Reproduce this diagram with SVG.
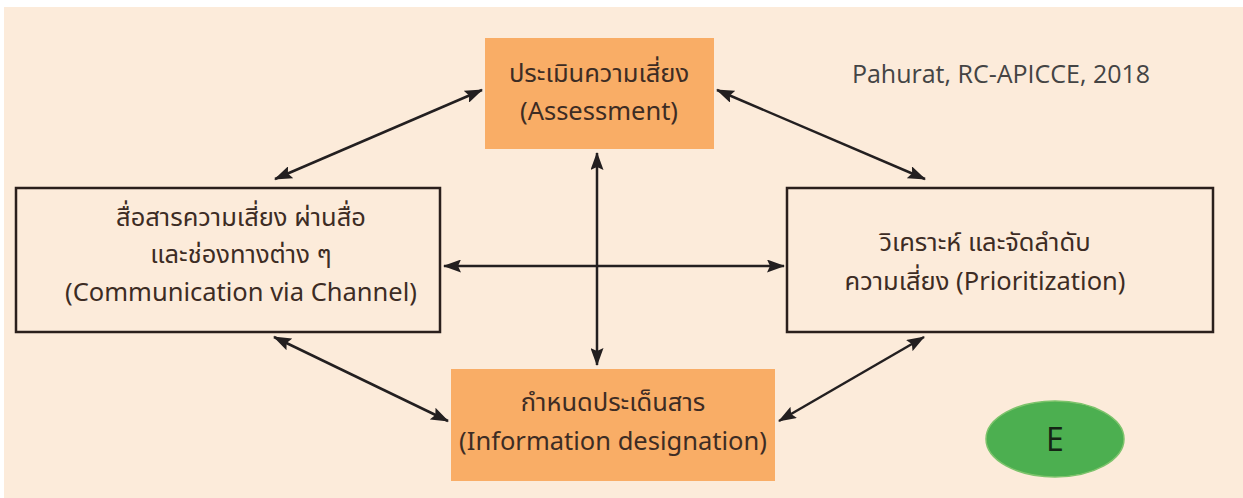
<svg xmlns="http://www.w3.org/2000/svg" width="1243" height="498" viewBox="0 0 1243 498">
<defs>
<style>
.t{font-family:"Noto Sans Thai","Noto Sans","Open Sans",sans-serif;font-size:25.5px;fill:#3d2c24;text-anchor:middle}
.box{fill:none;stroke:#2a1f1c;stroke-width:2.5}
.obox{fill:#f9ad66}
.c{stroke:#231f20;stroke-width:2.5;fill:none;marker-start:url(#ah);marker-end:url(#ah)}
</style>
<marker id="ah" viewBox="0 0 18 13" refX="17" refY="6.5" markerWidth="18" markerHeight="13" markerUnits="userSpaceOnUse" orient="auto-start-reverse">
<path d="M0,0 L18,6.5 L0,13 L3,6.5 Z" fill="#231f20"/>
</marker>
</defs>
<rect x="0" y="0" width="1243" height="498" fill="#ffffff"/>
<rect x="4" y="7" width="1239" height="491" fill="#fcebda"/>
<g id="connectors">
<line class="c" x1="275" y1="179" x2="482" y2="90"/>
<line class="c" x1="717" y1="90" x2="925" y2="179"/>
<line class="c" x1="597" y1="153" x2="597" y2="365"/>
<line class="c" x1="444" y1="266" x2="784" y2="266"/>
<line class="c" x1="274" y1="337" x2="448" y2="421"/>
<line class="c" x1="924" y1="337" x2="779" y2="421"/>
</g>
<g id="assessment">
<rect class="obox" x="485" y="38" width="229" height="111"/>
<text class="t" x="599" y="82">ประเมินความเสี่ยง</text>
<text class="t" x="599" y="120">(Assessment)</text>
</g>
<g id="communication">
<rect class="box" x="16" y="188" width="424" height="144"/>
<text class="t" x="241" y="226">สื่อสารความเสี่ยง ผ่านสื่อ</text>
<text class="t" x="241" y="263">และช่องทางต่าง ๆ</text>
<text class="t" x="241" y="301">(Communication via Channel)</text>
</g>
<g id="prioritization">
<rect class="box" x="787" y="188" width="426" height="144"/>
<text class="t" x="985" y="251">วิเคราะห์ และจัดลำดับ</text>
<text class="t" x="985" y="290">ความเสี่ยง (Prioritization)</text>
</g>
<g id="information">
<rect class="obox" x="451" y="369" width="324" height="112"/>
<text class="t" x="613" y="411">กำหนดประเด็นสาร</text>
<text class="t" x="613" y="450">(Information designation)</text>
</g>
<g id="citation">
<text x="1001" y="83" style="font-family:'Open Sans','Noto Sans',sans-serif;font-size:25px;fill:#444444;text-anchor:middle">Pahurat, RC-APICCE, 2018</text>
</g>
<g id="label-e">
<ellipse cx="1055" cy="439" rx="69" ry="38" fill="#4caf50" stroke="#7cc36b" stroke-width="1.5"/>
<text x="1055" y="451" style="font-family:'Open Sans','Noto Sans',sans-serif;font-size:32px;fill:#142414;text-anchor:middle">E</text>
</g>
</svg>
